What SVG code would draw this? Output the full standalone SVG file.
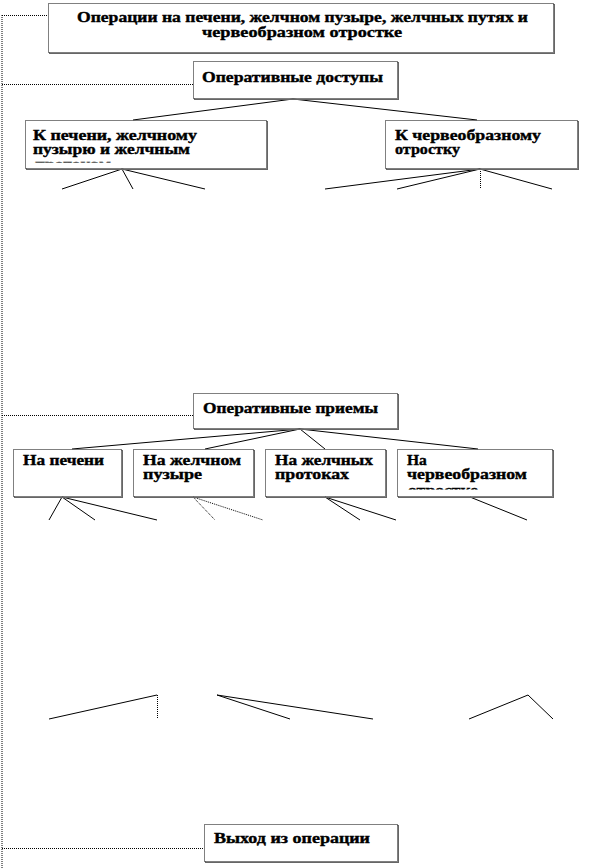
<svg xmlns="http://www.w3.org/2000/svg" width="592" height="868" viewBox="0 0 592 868">
<style>
.bx{fill:#fff;stroke:#000;stroke-width:1;stroke-dasharray:1 1}
.sh{fill:none;stroke:#666;stroke-width:1}
.t{font-family:"Liberation Serif","Times New Roman",serif;font-weight:bold;font-size:15.5px;fill:#000;stroke:#000;stroke-width:0.4}
.c{fill:none;stroke:#000;stroke-width:1}
.d{fill:none;stroke:#000;stroke-width:1;stroke-dasharray:1 1}
</style>
<defs>
<clipPath id="clipA"><rect x="26" y="121" width="239" height="41.5"/></clipPath>
<clipPath id="clipB"><rect x="398" y="450" width="154" height="39.5"/></clipPath>
</defs>
<rect width="592" height="868" fill="#fff"/>
<g id="connectors">
<line class="d" x1="2" y1="15" x2="2" y2="868" stroke-width="2"/>
<line class="d" x1="2" y1="15.5" x2="48" y2="15.5"/>
<line class="d" x1="2" y1="84.5" x2="193" y2="84.5"/>
<line class="d" x1="2" y1="415.5" x2="193" y2="415.5"/>
<line class="d" x1="2" y1="848.5" x2="204" y2="848.5"/>
<line class="c" x1="293" y1="99" x2="133" y2="120"/>
<line class="c" x1="293" y1="99" x2="477" y2="120"/>
<line class="c" x1="122" y1="169" x2="62" y2="189"/>
<line class="c" x1="122" y1="169" x2="133" y2="189"/>
<line class="c" x1="122" y1="169" x2="205" y2="189"/>
<line class="c" x1="480" y1="169" x2="325" y2="189"/>
<line class="c" x1="480" y1="169" x2="397" y2="189"/>
<line class="d" x1="480.5" y1="169" x2="480.5" y2="189"/>
<line class="c" x1="480" y1="169" x2="552" y2="189"/>
<line class="c" x1="300" y1="429" x2="72" y2="449"/>
<line class="c" x1="300" y1="429" x2="205" y2="449"/>
<line class="c" x1="300" y1="429" x2="325" y2="449"/>
<line class="c" x1="300" y1="429" x2="478" y2="449"/>
<line class="c" x1="62" y1="497" x2="49" y2="520"/>
<line class="c" x1="62" y1="497" x2="95" y2="520"/>
<line class="c" x1="62" y1="497" x2="157" y2="520"/>
<line class="d" x1="193" y1="497" x2="215" y2="520"/>
<line class="d" x1="193" y1="497" x2="263" y2="520"/>
<line class="c" x1="325" y1="497" x2="360" y2="520"/>
<line class="c" x1="325" y1="497" x2="396" y2="520"/>
<line class="c" x1="470" y1="497" x2="527" y2="520"/>
<line class="c" x1="49" y1="719" x2="157" y2="695"/>
<line class="d" x1="157.5" y1="695" x2="157.5" y2="719"/>
<line class="c" x1="217" y1="695" x2="373" y2="719"/>
<line class="c" x1="217" y1="695" x2="290" y2="719"/>
<polyline class="c" points="469,719 528,695 553,719"/>
</g>
<g id="n-top">
<rect class="sh" x="49.5" y="4.5" width="505" height="49"/>
<rect class="bx" x="48.5" y="3.5" width="505" height="49"/>
<text class="t" x="77" y="22" textLength="451" lengthAdjust="spacingAndGlyphs">Операции на печени, желчном пузыре, желчных путях и</text>
<text class="t" x="202" y="37" textLength="200" lengthAdjust="spacingAndGlyphs">червеобразном отростке</text>
</g>
<g id="n-dostupy">
<rect class="sh" x="194.5" y="62.5" width="204" height="37"/>
<rect class="bx" x="193.5" y="61.5" width="204" height="37"/>
<text class="t" x="202" y="82" textLength="181" lengthAdjust="spacingAndGlyphs">Оперативные доступы</text>
</g>
<g id="n-pechen">
<rect class="sh" x="26.5" y="121.5" width="241" height="48"/>
<rect class="bx" x="25.5" y="120.5" width="241" height="48"/>
<g clip-path="url(#clipA)">
<text class="t" x="33" y="140" textLength="164" lengthAdjust="spacingAndGlyphs">К печени, желчному</text>
<text class="t" x="33" y="154" textLength="157" lengthAdjust="spacingAndGlyphs">пузырю и желчным</text>
<text class="t" x="35" y="168.5" textLength="76" lengthAdjust="spacingAndGlyphs">протокам</text>
</g>
</g>
<g id="n-cherv">
<rect class="sh" x="386.5" y="121.5" width="192" height="48"/>
<rect class="bx" x="385.5" y="120.5" width="192" height="48"/>
<text class="t" x="395" y="140" textLength="146" lengthAdjust="spacingAndGlyphs">К червеобразному</text>
<text class="t" x="395" y="154" textLength="65" lengthAdjust="spacingAndGlyphs">отростку</text>
</g>
<g id="n-priemy">
<rect class="sh" x="194.5" y="394.5" width="204" height="35"/>
<rect class="bx" x="193.5" y="393.5" width="204" height="35"/>
<text class="t" x="203" y="413" textLength="175" lengthAdjust="spacingAndGlyphs">Оперативные приемы</text>
</g>
<g id="n-na-pecheni">
<rect class="sh" x="14.5" y="450.5" width="108" height="47"/>
<rect class="bx" x="13.5" y="449.5" width="108" height="47"/>
<text class="t" x="23" y="465" textLength="81" lengthAdjust="spacingAndGlyphs">На печени</text>
</g>
<g id="n-na-puzyre">
<rect class="sh" x="134.5" y="450.5" width="120" height="47"/>
<rect class="bx" x="133.5" y="449.5" width="120" height="47"/>
<text class="t" x="143" y="465" textLength="98" lengthAdjust="spacingAndGlyphs">На желчном</text>
<text class="t" x="143" y="479" textLength="59" lengthAdjust="spacingAndGlyphs">пузыре</text>
</g>
<g id="n-na-protokah">
<rect class="sh" x="266.5" y="450.5" width="120" height="47"/>
<rect class="bx" x="265.5" y="449.5" width="120" height="47"/>
<text class="t" x="275" y="465" textLength="98" lengthAdjust="spacingAndGlyphs">На желчных</text>
<text class="t" x="275" y="479" textLength="74" lengthAdjust="spacingAndGlyphs">протоках</text>
</g>
<g id="n-na-cherv">
<rect class="sh" x="398.5" y="450.5" width="155" height="47"/>
<rect class="bx" x="397.5" y="449.5" width="155" height="47"/>
<g clip-path="url(#clipB)">
<text class="t" x="407" y="465">На</text>
<text class="t" x="407" y="479" textLength="120" lengthAdjust="spacingAndGlyphs">червеобразном</text>
<text class="t" x="408" y="494.5" textLength="70" lengthAdjust="spacingAndGlyphs">отростке</text>
</g>
</g>
<g id="n-vyhod">
<rect class="sh" x="205.5" y="825.5" width="193" height="37"/>
<rect class="bx" x="204.5" y="824.5" width="193" height="37"/>
<text class="t" x="214" y="843" textLength="156" lengthAdjust="spacingAndGlyphs">Выход из операции</text>
</g>
</svg>
